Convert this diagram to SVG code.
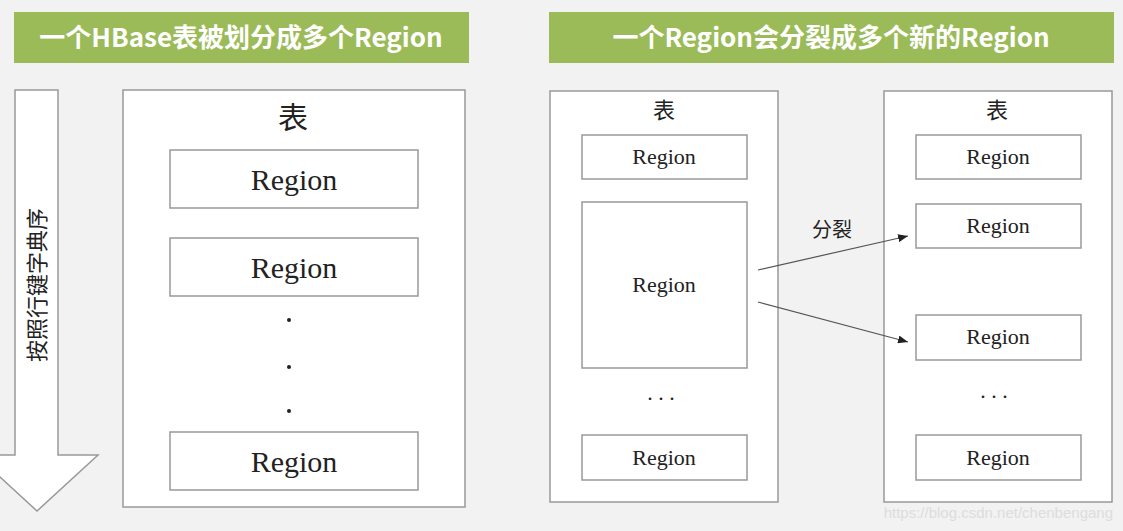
<svg xmlns="http://www.w3.org/2000/svg" width="1123" height="531" viewBox="0 0 1123 531">
<style>
.bn{fill:#9bbb59}
.bt{font-family:"Noto Sans CJK SC","Noto Sans",sans-serif;font-weight:bold;font-size:26px;fill:#fff;text-anchor:middle}
.box{fill:#fff;stroke:#999;stroke-width:1.5}
.r{font-family:"Liberation Serif","Noto Sans CJK SC",serif;text-anchor:middle;fill:#222}
.c{font-family:"Noto Sans CJK SC",serif;text-anchor:middle;fill:#222}
.ln{stroke:#555;stroke-width:1.2;fill:none}
</style>
<defs><marker id="ah" markerWidth="10" markerHeight="8" refX="10" refY="4" orient="auto" markerUnits="userSpaceOnUse"><path d="M0,0L10,4L0,8z" fill="#222"/></marker></defs>
<rect width="1123" height="531" fill="#f2f2f2"/>
<g id="banner1"><rect class="bn" x="14" y="12" width="455" height="51"/><text class="bt" x="241" y="47">一个HBase表被划分成多个Region</text></g>
<g id="banner2"><rect class="bn" x="549" y="12" width="565" height="51"/><text class="bt" x="831" y="47">一个Region会分裂成多个新的Region</text></g>
<g id="order"><path class="box" d="M15,90H58V455H98L37,511L-24,455H15Z"/><text class="c" font-size="22" transform="translate(45,285) rotate(-90)">按照行键字典序</text></g>
<g id="table1"><rect class="box" x="123" y="90" width="342" height="417"/><text class="c" x="293" y="128" font-size="30">表</text>
<rect class="box" x="170" y="150" width="248" height="58"/><text class="r" x="294" y="190" font-size="30">Region</text>
<rect class="box" x="170" y="238" width="248" height="58"/><text class="r" x="294" y="278" font-size="30">Region</text>
<circle cx="289" cy="320" r="2" fill="#222"/><circle cx="289" cy="367" r="2" fill="#222"/><circle cx="289" cy="411" r="2" fill="#222"/>
<rect class="box" x="170" y="432" width="248" height="58"/><text class="r" x="294" y="472" font-size="30">Region</text></g>
<g id="table2"><rect class="box" x="550" y="91" width="228" height="411"/><text class="c" x="664" y="118" font-size="22">表</text>
<rect class="box" x="582" y="135" width="165" height="44"/><text class="r" x="664" y="164" font-size="22">Region</text>
<rect class="box" x="582" y="202" width="165" height="166"/><text class="r" x="664" y="292" font-size="22">Region</text>
<text class="r" x="661" y="400" font-size="22">. . .</text>
<rect class="box" x="582" y="435" width="165" height="45"/><text class="r" x="664" y="465" font-size="22">Region</text></g>
<g id="table3"><rect class="box" x="884" y="91" width="228" height="411"/><text class="c" x="997" y="118" font-size="22">表</text>
<rect class="box" x="916" y="135" width="165" height="44"/><text class="r" x="998" y="164" font-size="22">Region</text>
<rect class="box" x="916" y="204" width="165" height="44"/><text class="r" x="998" y="233" font-size="22">Region</text>
<rect class="box" x="916" y="315" width="165" height="45"/><text class="r" x="998" y="344" font-size="22">Region</text>
<text class="r" x="994" y="398" font-size="22">. . .</text>
<rect class="box" x="916" y="435" width="165" height="45"/><text class="r" x="998" y="465" font-size="22">Region</text></g>
<g id="connectors"><path class="ln" d="M758,270L908,236" marker-end="url(#ah)"/><path class="ln" d="M758,302L908,342" marker-end="url(#ah)"/><text class="c" x="832" y="237" font-size="20">分裂</text></g>
<text x="1113" y="518" font-family="Liberation Sans,sans-serif" font-size="15" fill="#ddd" text-anchor="end">https://blog.csdn.net/chenbengang</text>
</svg>
